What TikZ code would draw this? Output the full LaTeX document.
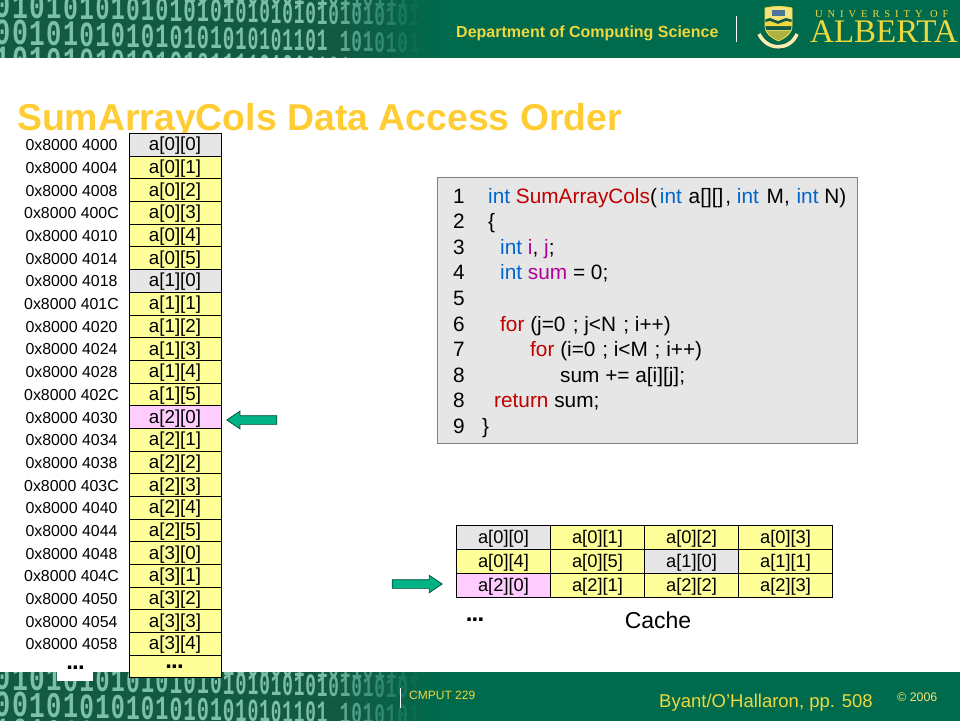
\documentclass[tikz,border=0pt]{standalone}
\usepackage{fontspec}
\setmainfont{Liberation Sans}
\newfontfamily\bitfont{Liberation Mono}
\newfontfamily\crestfont{Liberation Serif}
\newfontfamily\crestspaced[LetterSpace=47]{Liberation Serif}
\usetikzlibrary{shapes.arrows}

\definecolor{bandgreen}{HTML}{006A4D}
\definecolor{banddark}{HTML}{125A43}
\definecolor{bitgreen}{HTML}{7DBFA8}
\definecolor{titlegold}{HTML}{FFCC33}
\definecolor{bandyellow}{HTML}{EFD83F}
\definecolor{cellyellow}{HTML}{FFFF99}
\definecolor{cellgrey}{HTML}{E6E6E6}
\definecolor{cellpink}{HTML}{FFCCFF}
\definecolor{arrowgreen}{HTML}{00B386}
\definecolor{kwblue}{HTML}{0066CC}
\definecolor{fnred}{HTML}{C00000}
\definecolor{varpink}{HTML}{B4009A}

\newcommand{\ckw}[1]{\textcolor{kwblue}{#1}}
\newcommand{\cfn}[1]{\textcolor{fnred}{#1}}
\newcommand{\cvar}[1]{\textcolor{varpink}{#1}}
\newcommand{\tdots}{.\kern-.8pt.\kern-.8pt.}

% one row of bits, squeezed and faded towards the right
\newcommand{\bitrow}[4]{%
	\foreach \d [count=\i from 0] in {#4} {
		\pgfmathsetmacro\bx{\i<18 ? 3+17.6*\i-0.17*\i*\i : 264.7+11.5*(\i-18)}
		\pgfmathsetmacro\bpitch{\i<18 ? 17.6-0.34*\i : 11.5}
		\pgfmathsetmacro\bfade{100*min(1,max(0,(420-\bx)/100))}
		\pgfmathsetmacro\bxs{\bpitch/24}
		\pgfmathsetmacro\bys{1-0.0005*\bx}
		\node[bit,xscale=\bxs,yscale=\bys,text=bitgreen!\bfade!bandgreen] (#1-#2-\i) at (\bx,#3+0.02*\bx) {\d};
	}
}
% green band with the bits on it
\newcommand{\bitband}[3]{%
	\begin{scope}[shift={(0,#2)}]
		\clip (0,0) rectangle (960,#3);
		\fill[bandgreen] (0,0) rectangle (960,#3);
		\fill[banddark] (0,0) rectangle (340,#3);
		\foreach \s in {0,...,19} {
			\pgfmathsetmacro\sm{100-5*\s}
			\fill[banddark!\sm!bandgreen] (340+5*\s,0) rectangle (345.5+5*\s,#3);
		}
		\bitrow{#1}{a}{-1}{~,~,~,~,~,~,~,~,~,~,~,~,1,0,~,1,0,0,0,0,0,1,~,1,0,1,1,0,1,1,1,1,0}
		\bitrow{#1}{b}{17.6}{0,1,0,1,0,1,0,1,0,1,0,1,0,1,0,1,0,1,0,1,0,1,0,1,0,1,0,1,0,1,0,1,0}
		\bitrow{#1}{c}{44.5}{0,0,1,0,1,0,1,0,1,0,1,0,1,0,1,0,1,0,1,0,1,1,0,1,~,1,0,1,0,1,0,1,0,1}
		\bitrow{#1}{d}{71}{1,0,1,0,1,0,1,0,1,0,1,0,1,0,1,1,1,1,0,1,0,1,0,1,0,1,1,0,1,0,1,0,1}
	\end{scope}
}

\tikzset{
	bit/.style={font=\bitfont\bfseries\fontsize{37}{37}\selectfont,anchor=base,inner sep=0pt,transform shape},
	memcell/.style={draw=black,line width=1pt,minimum width=92pt,minimum height=22.68pt,inner sep=0pt,text height=12pt,text depth=0pt,font=\fontsize{18.8}{20}\selectfont},
	cachecell/.style={draw=black,line width=1pt,minimum width=94pt,minimum height=24pt,inner sep=0pt,text height=13pt,text depth=0pt,font=\fontsize{18.3}{20}\selectfont},
	addr/.style={inner sep=0pt,font=\fontsize{15.9}{18}\selectfont},
	dots/.style={inner sep=0pt,font=\bfseries\fontsize{24}{24}\selectfont},
	codeline/.style={anchor=base west,inner sep=0pt,font=\fontsize{20.8}{22}\selectfont},
	blockarrow/.style={single arrow,draw=black!60!arrowgreen,fill=arrowgreen,line width=.7pt,inner sep=0pt,text height=8pt,text depth=0pt,minimum height=50pt,single arrow head extend=4.5pt,single arrow tip angle=68}
}

\begin{document}
\begin{tikzpicture}[x=1pt,y=-1pt]
	\useasboundingbox (0,0) rectangle (960,720);

	% top and bottom bands
	\bitband{top}{0}{57.5}
	\bitband{bot}{672}{50}
	\fill[white] (57,660) rectangle (93,681);

	% band texts
	\node[anchor=base west,inner sep=0pt,text=bandyellow,font=\bfseries\fontsize{16}{18}\selectfont] (dept) at (456,37.5) {Department of Computing Science};
	\draw[white,line width=.8pt] (736.5,16) -- (736.5,42);
	\draw[white,line width=.8pt] (400.5,688) -- (400.5,708);
	\node[anchor=base west,inner sep=0pt,text=bandyellow,font=\fontsize{12}{14}\selectfont] (course) at (409,699.5) {CMPUT 229};
	\node[anchor=base west,inner sep=0pt,text=bandyellow,font=\fontsize{18.5}{20}\selectfont] (source) at (659,707.5) {Byant/O’Hallaron, pp. 508};
	\node[anchor=base west,inner sep=0pt,text=bandyellow!70!white,font=\fontsize{12.4}{14}\selectfont] (year) at (897,701.5) {© 2006};

	% crest
	\begin{scope}
		\path[clip] (765,8) .. controls (775,6) and (783,6) .. (792,8) -- (792,26) .. controls (792,34) and (785,38) .. (778.5,41) .. controls (772,38) and (765,34) .. (765,26) -- cycle;
		\fill[bandyellow!70!white] (760,5) rectangle (797,46);
		\fill[kwblue!40!gray] (772,10) rectangle (785,16);
		\fill[banddark] (760,21) -- (770,18) -- (778,21) -- (786,18) -- (797,21) -- (797,30) -- (760,30) -- cycle;
		\fill[bandyellow] (760,23) -- (770,21) -- (778,24) -- (786,21) -- (797,23) -- (797,26) -- (760,26) -- cycle;
		\fill[bandyellow!70!banddark] (760,31) rectangle (797,46);
	\end{scope}
	\draw[bandyellow,line width=.8pt] (765,8) .. controls (775,6) and (783,6) .. (792,8) -- (792,26) .. controls (792,34) and (785,38) .. (778.5,41) .. controls (772,38) and (765,34) .. (765,26) -- cycle;
	\draw[banddark,line width=5pt] (759,34) .. controls (767,51) and (790,51) .. (797,34);
	\draw[bandyellow!40!white,line width=3.6pt] (759,34) .. controls (767,51) and (790,51) .. (797,34);

	\node[anchor=base west,inner sep=0pt,text=bandyellow,font=\crestspaced\fontsize{10.5}{10.5}\selectfont] (uni) at (815,17) {UNIVERSITY OF};
	\node[anchor=base west,inner sep=0pt,text=bandyellow,font=\crestfont\fontsize{33}{33}\selectfont] (alberta) at (810,42) {ALBERTA};

	% title
	\node[anchor=base west,inner sep=0pt,text=titlegold,font=\bfseries\fontsize{37.4}{40}\selectfont] (title) at (17,130.5) {SumArrayCols Data Access Order};

	% memory column
	\foreach \adr/\lbl/\col [count=\r from 0] in {
		0x8000 4000/a[0][0]/cellgrey,0x8000 4004/a[0][1]/cellyellow,0x8000 4008/a[0][2]/cellyellow,
		0x8000 400C/a[0][3]/cellyellow,0x8000 4010/a[0][4]/cellyellow,0x8000 4014/a[0][5]/cellyellow,
		0x8000 4018/a[1][0]/cellgrey,0x8000 401C/a[1][1]/cellyellow,0x8000 4020/a[1][2]/cellyellow,
		0x8000 4024/a[1][3]/cellyellow,0x8000 4028/a[1][4]/cellyellow,0x8000 402C/a[1][5]/cellyellow,
		0x8000 4030/a[2][0]/cellpink,0x8000 4034/a[2][1]/cellyellow,0x8000 4038/a[2][2]/cellyellow,
		0x8000 403C/a[2][3]/cellyellow,0x8000 4040/a[2][4]/cellyellow,0x8000 4044/a[2][5]/cellyellow,
		0x8000 4048/a[3][0]/cellyellow,0x8000 404C/a[3][1]/cellyellow,0x8000 4050/a[3][2]/cellyellow,
		0x8000 4054/a[3][3]/cellyellow,0x8000 4058/a[3][4]/cellyellow} {
		\node[memcell,fill=\col] (mem\r) at (175,144.9+22.68*\r) {\lbl};
		\node[addr] (addr\r) at (71.5,145.4+22.68*\r) {\adr};
	}
	\node[memcell,fill=cellyellow] (memlast) at (175,666.5) {};
	\node[dots] (memdots) at (174.5,667) {\tdots};
	\node[dots] (addrdots) at (75.5,668) {\tdots};
	\node[blockarrow,shape border rotate=180] (memarrow) at (255,420) {};

	% code panel
	\node[draw=gray,fill=cellgrey,line width=.8pt,minimum width=420pt,minimum height=266pt,inner sep=0pt] (codebox) at (647,310) {};
	\foreach \n/\ln in {1/1,2/2,3/3,4/4,5/5,6/6,7/7,8/8,9/8,10/9} {
		\node[codeline] (num\n) at (453,203+25.6*\n-25.6) {\ln};
	}
	\node[codeline] (code1) at (488,203) {\ckw{int} \cfn{SumArrayCols}(\kern3pt\ckw{int} \kern1pt a[][]\kern2pt, \ckw{int} \kern2pt M, \kern1pt\ckw{int} N)};
	\node[codeline] (code2) at (488,228.6) {\{};
	\node[codeline] (code3) at (500,254.2) {\ckw{int} \cvar{i}, \cvar{j};};
	\node[codeline] (code4) at (500,279.8) {\ckw{int} \cvar{sum} = 0;};
	\node[codeline] (code6) at (500,331) {\cfn{for} (j=0\kern1.5pt\ ; j<N\kern1.5pt\ ; i++)};
	\node[codeline] (code7) at (530,356.6) {\cfn{for} (i=0\kern1pt\ ; i<M\kern1pt\ ; i++)};
	\node[codeline] (code8) at (560,382.2) {sum += a[i][j];};
	\node[codeline] (code9) at (494,407.8) {\cfn{return} sum;};
	\node[codeline] (code10) at (482,433.4) {\}};

	% cache
	\foreach \lbl/\col [count=\k from 0] in {
		a[0][0]/cellgrey,a[0][1]/cellyellow,a[0][2]/cellyellow,a[0][3]/cellyellow,
		a[0][4]/cellyellow,a[0][5]/cellyellow,a[1][0]/cellgrey,a[1][1]/cellyellow,
		a[2][0]/cellpink,a[2][1]/cellyellow,a[2][2]/cellyellow,a[2][3]/cellyellow} {
		\pgfmathtruncatemacro\cx{mod(\k,4)}
		\pgfmathtruncatemacro\cy{int(\k/4)}
		\node[cachecell,fill=\col] (cache\k) at (503.5+94*\cx,537+24*\cy) {\lbl};
	}
	\node[blockarrow] (cachearrow) at (414,584) {};
	\node[dots] (cachedots) at (475,620) {\tdots};
	\node[inner sep=0pt,font=\fontsize{23}{24}\selectfont] (cachename) at (658,620) {Cache};
\end{tikzpicture}
\end{document}
